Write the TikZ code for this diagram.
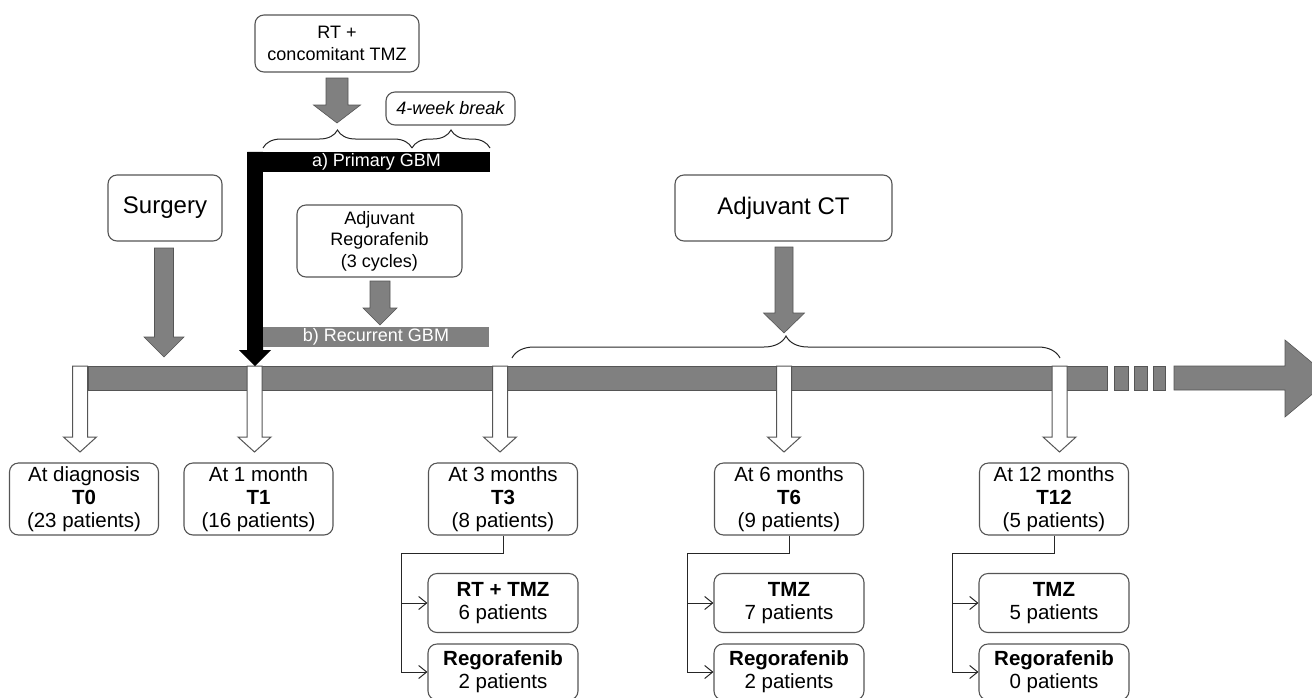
\documentclass[tikz,border=0pt]{standalone}
\usepackage{fontspec}
\setmainfont{Liberation Sans}
\usetikzlibrary{arrows.meta,decorations.pathreplacing,calc}

\definecolor{bargray}{HTML}{808080}
\definecolor{edgegray}{HTML}{555555}

% block arrow pointing down: style, x, top, tip, shaft half width, head half width, head length
\newcommand{\blockdown}[7]{%
  \draw[#1] ({#2-#5},#3) -- ({#2+#5},#3) -- ({#2+#5},{#4-#7}) -- ({#2+#6},{#4-#7})
    -- (#2,#4) -- ({#2-#6},{#4-#7}) -- ({#2-#5},{#4-#7}) -- cycle;}

\begin{document}
\begin{tikzpicture}[x=1pt,y=-1pt,
  box/.style={draw=edgegray, line width=1.1pt, rounded corners=9pt, fill=white, align=center, inner sep=0pt},
  small/.style={font=\fontsize{18}{21.5}\selectfont},
  mid/.style={font=\fontsize{20.5}{23}\selectfont},
  big/.style={font=\fontsize{24}{28}\selectfont},
  timebox/.style={box, mid, minimum width=149pt, minimum height=72pt},
  treatbox/.style={box, mid, minimum width=150pt, minimum height=59pt},
  graybar/.style={fill=bargray, draw=edgegray, line width=0.6pt},
  hollow/.style={fill=white, draw=edgegray, line width=1pt},
  brc/.style={decorate, decoration={brace, amplitude=18pt}, draw=black!85, line width=1pt},
  branch/.style={draw=black!85, line width=1pt, -{Straight Barb[length=8pt,width=13pt]}}]
\useasboundingbox (0,0) rectangle (1312,697);

% timeline
\draw[graybar] (88,366) rectangle (1107,390);
\foreach \a/\b in {1114/1128,1134/1147,1153/1165}
  \draw[graybar] (\a,366) rectangle (\b,390);
\draw[graybar] (1174,366) -- (1285,366) -- (1285,340) -- (1331,378.5) -- (1285,417) -- (1285,390) -- (1174,390) -- cycle;

\foreach \x in {80,254.5,500,784,1059.5}
  {\blockdown{hollow}{\x}{366}{452}{7.5}{16.5}{15}}

% treatments above the timeline
\node[box, small, minimum width=164pt, minimum height=57pt] (rt) at (337,43.5) {RT +\\concomitant TMZ};
\node[box, small, minimum width=129pt, minimum height=33pt] (brk) at (450.5,108.5) {\itshape 4-week break};
\node[box, big, minimum width=114pt, minimum height=66pt] (surg) at (165,208) {Surgery};
\node[box, small, minimum width=165pt, minimum height=72pt] (adjreg) at (379.5,241) {Adjuvant\\Regorafenib\\(3 cycles)};
\node[box, big, minimum width=217pt, minimum height=66pt] (adjct) at (783.5,208) {Adjuvant CT};

\node[fill=black, text=white, small, minimum width=227pt, minimum height=20pt, inner sep=0pt] (pgbm) at (376.5,162) {a) Primary GBM};
\node[fill=bargray, text=white, small, minimum width=226pt, minimum height=20pt, inner sep=0pt] (rgbm) at (376,337) {b) Recurrent GBM};
\fill[black] (pgbm.north west) -- (247,152) -- (247,350) -- (239,350) -- (255,366) -- (271,350) -- (263,350) -- cycle;

\blockdown{graybar}{337}{78}{123}{11}{23.5}{18}
\blockdown{graybar}{164}{248}{357}{9.5}{20}{20}
\blockdown{graybar}{380}{281}{325}{10}{17}{17}
\blockdown{graybar}{784}{247}{333}{9}{20.5}{20}

\draw[brc] (263,148) -- (412,148);
\draw[brc] (412,148) -- (490,148);
\draw[brc, decoration={amplitude=22pt}] (512,358) -- (1060,358);

% time points
\node[timebox] (t0) at (84,499) {At diagnosis\\\textbf{T0}\\(23 patients)};
\node[timebox] (t1) at (258.5,499) {At 1 month\\\textbf{T1}\\(16 patients)};
\node[timebox] (t3) at (503,499) {At 3 months\\\textbf{T3}\\(8 patients)};
\node[timebox] (t6) at (789,499) {At 6 months\\\textbf{T6}\\(9 patients)};
\node[timebox] (t12) at (1054,499) {At 12 months\\\textbf{T12}\\(5 patients)};

\node[treatbox] (trt3) at (503,603) {\textbf{RT + TMZ}\\6 patients};
\node[treatbox, minimum height=56pt] (reg3) at (503,672) {\textbf{Regorafenib}\\2 patients};
\node[treatbox] (trt6) at (789,603) {\textbf{TMZ}\\7 patients};
\node[treatbox, minimum height=56pt] (reg6) at (789,672) {\textbf{Regorafenib}\\2 patients};
\node[treatbox] (trt12) at (1054,603) {\textbf{TMZ}\\5 patients};
\node[treatbox, minimum height=56pt] (reg12) at (1054,672) {\textbf{Regorafenib}\\0 patients};

\foreach \t in {3,6,12} {
  \coordinate (j\t) at ([xshift=-26pt,yshift=-18pt]t\t.south west);
  \draw[branch] (t\t.south) |- (j\t) |- (trt\t.west);
  \draw[branch] (j\t) |- (reg\t.west);
}
\end{tikzpicture}
\end{document}
